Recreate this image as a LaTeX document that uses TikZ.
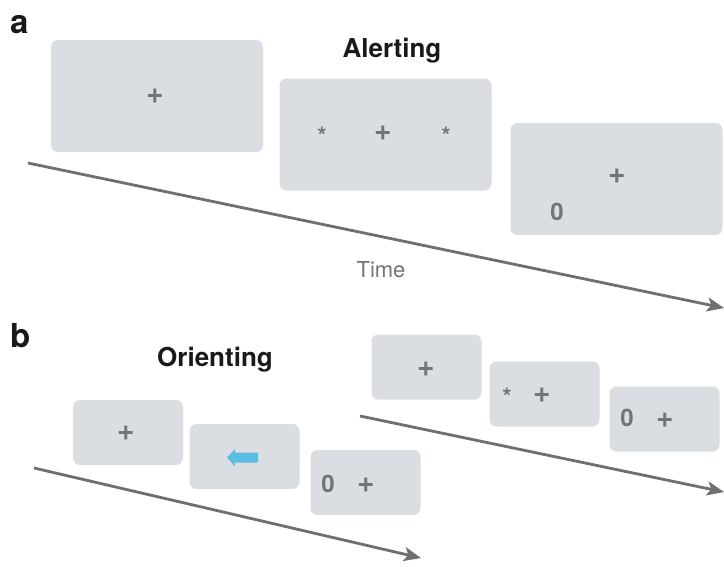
\documentclass[tikz,border=0pt]{standalone}
\usepackage{fontspec}
\setmainfont{TeX Gyre Heros}
\usetikzlibrary{arrows.meta}
\definecolor{screenfill}{HTML}{DADEE2}
\definecolor{symgray}{HTML}{727477}
\definecolor{axisgray}{HTML}{6E6F71}
\definecolor{cuecyan}{HTML}{5BBDE2}
\tikzset{
  screen/.style={fill=screenfill, draw=none, rounded corners=7pt, inner sep=0pt},
  bigscreen/.style={screen, minimum width=212pt, minimum height=112pt},
  smallscreen/.style={screen, minimum width=110pt, minimum height=65pt},
  sym/.style={text=symgray, font=\fontsize{24}{24}\selectfont\bfseries, inner sep=0pt},
  plus/.style={text=symgray, font=\fontsize{30}{30}\selectfont\bfseries, inner sep=0pt},
  star/.style={text=symgray, font=\fontsize{24}{24}\selectfont\bfseries, inner sep=0pt},
  heading/.style={font=\fontsize{26}{26}\selectfont\bfseries, text=black!90, inner sep=0pt},
  panel/.style={font=\fontsize{33}{33}\selectfont\bfseries, text=black!90, inner sep=0pt},
  timeline/.style={draw=axisgray, line width=2.8pt, -{Stealth[length=17pt, width=14pt, inset=4pt]}},
}
\begin{document}
\begin{tikzpicture}[x=1pt, y=-1pt]
  \useasboundingbox (0,0) rectangle (724,566);

  % ---- panel a: alerting ----
  \node[panel, anchor=base west] (la) at (10,33) {a};
  \node[heading] (alert) at (392,51) {Alerting};

  \node[bigscreen] (a1) at (157,96) {};
  \node[bigscreen] (a2) at (385.5,134.5) {};
  \node[bigscreen] (a3) at (616.5,179) {};

  \node[plus] (a1p) at (155,96) {+};
  \node[star] (a2s1) at (322,136) {*};
  \node[plus] (a2p) at (383,133) {+};
  \node[star] (a2s2) at (446,136) {*};
  \node[plus] (a3p) at (617,176) {+};
  \node[sym] (a3z) at (557,212) {0};

  \coordinate (ta0) at (28,163);
  \coordinate (ta1) at (724,308);
  \draw[timeline] (ta0) -- (ta1);
  \node[text=symgray, font=\fontsize{22}{22}\selectfont, inner sep=0pt] (time) at (381,270) {Time};

  % ---- panel b: orienting ----
  \node[panel, anchor=base west] (lb) at (10,347) {b};
  \node[heading] (orient) at (215,360) {Orienting};

  \node[smallscreen] (b1) at (128,432.5) {};
  \node[smallscreen] (b2) at (244.5,456.5) {};
  \node[smallscreen] (b3) at (365.5,482.5) {};

  \node[plus] (b1p) at (126,433) {+};
  \node[sym] (b3z) at (328,484) {0};
  \node[plus] (b3p) at (366,485) {+};

  % spatial cue arrow pointing left
  \fill[cuecyan] (227,457.5) -- (235,449) -- (235,452.5) -- (258,452.5)
    -- (258,462.5) -- (235,462.5) -- (235,466.5) -- cycle;

  \coordinate (tb0) at (34,468);
  \coordinate (tb1) at (421,558);
  \draw[timeline] (tb0) -- (tb1);

  \node[smallscreen] (b4) at (426.5,367) {};
  \node[smallscreen] (b5) at (544.5,394) {};
  \node[smallscreen] (b6) at (664.5,419) {};

  \node[plus] (b4p) at (426,369) {+};
  \node[star] (b5s) at (507,397) {*};
  \node[plus] (b5p) at (542,395) {+};
  \node[sym] (b6z) at (627,418) {0};
  \node[plus] (b6p) at (665,420) {+};

  \coordinate (tc0) at (360,416);
  \coordinate (tc1) at (724,492);
  \draw[timeline] (tc0) -- (tc1);
\end{tikzpicture}
\end{document}
